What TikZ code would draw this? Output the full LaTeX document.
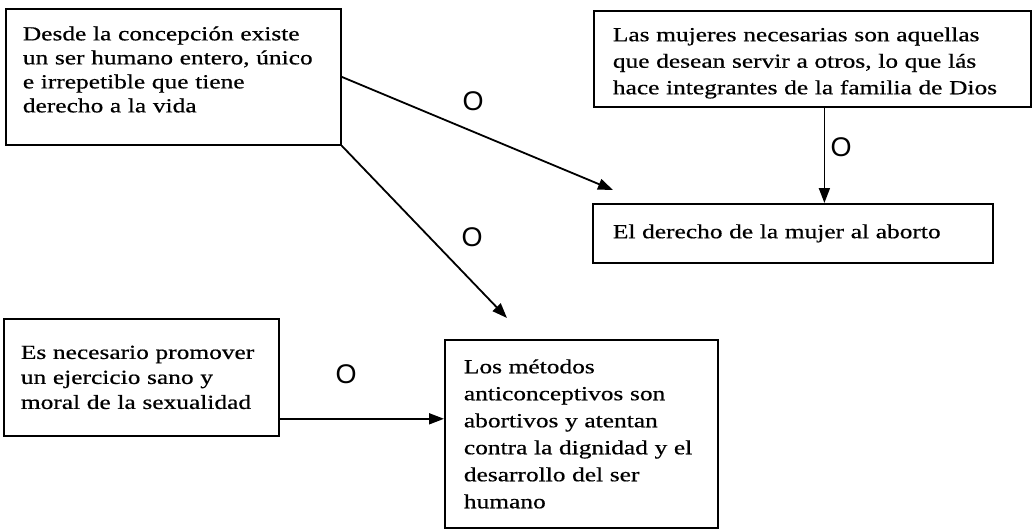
\documentclass[tikz,border=0pt]{standalone}
\usepackage{fontspec}
\setmainfont{Liberation Serif}[FakeStretch=1.27, FakeBold=0.6]
\newfontfamily\sansO{Liberation Sans}
\usetikzlibrary{arrows.meta,calc}

\tikzset{
  box/.style={draw, line width=1.8pt, anchor=north west, align=left,
              inner ysep=0pt, font=\fontsize{20}{25}\selectfont},
  link/.style={line width=1.8pt, -{Triangle[length=15pt,width=11pt]}},
  orr/.style={font=\sansO\fontsize{27}{27}\selectfont, inner sep=0pt},
}

\begin{document}
\begin{tikzpicture}[x=1pt, y=-1pt]
    \useasboundingbox (0,0) rectangle (1034,531);
    % Statements
    \node[box, text width=301pt, inner xsep=17pt, minimum height=136pt,
          font=\fontsize{20}{24}\selectfont] (concepcion) at (5,8)
         {Desde la concepción existe\\ un ser humano entero, único\\ e irrepetible que tiene\\ derecho a la vida\rule[-15pt]{0pt}{15pt}};
    \node[box, text width=399pt, inner xsep=19pt, minimum height=96pt,
          font=\fontsize{20}{26.5}\selectfont] (mujeres) at (593,10)
         {\rule{0pt}{22pt}Las mujeres necesarias son aquellas\\ que desean servir a otros, lo que lás\\ hace integrantes de la familia de Dios};
    \node[box, text width=360pt, inner xsep=20pt, minimum height=59pt] (aborto) at (592,203)
         {El derecho de la mujer al aborto};
    \node[box, text width=241pt, inner xsep=17pt, minimum height=117pt] (ejercicio) at (3,318)
         {Es necesario promover\\ un ejercicio sano y\\ moral de la sexualidad};
    \node[box, text width=235pt, inner xsep=19pt, minimum height=188pt,
          font=\fontsize{20}{27}\selectfont] (metodos) at (444,339)
         {Los métodos\\ anticonceptivos son\\ abortivos y atentan\\ contra la dignidad y el\\ desarrollo del ser\\ humano};
    % Connectors
    \draw[link] (concepcion.east) -- ($(aborto.north west)+(21,-13)$);
    \draw[link] (concepcion.south east) -- ($(metodos.north west)+(63,-21)$);
    \coordinate (drop) at ($(mujeres.south)+(12,0)$);
    \draw[link] (drop) -- (drop |- aborto.north);
    \coordinate (side) at ($(ejercicio.south east)+(0,-18)$);
    \draw[link] (side) -- (side -| metodos.west);
    % Labels
    \node[orr] (o1) at (473,101) {O};
    \node[orr] (o2) at (472,237) {O};
    \node[orr] (o3) at (841,147) {O};
    \node[orr] (o4) at (346,374) {O};
\end{tikzpicture}
\end{document}
